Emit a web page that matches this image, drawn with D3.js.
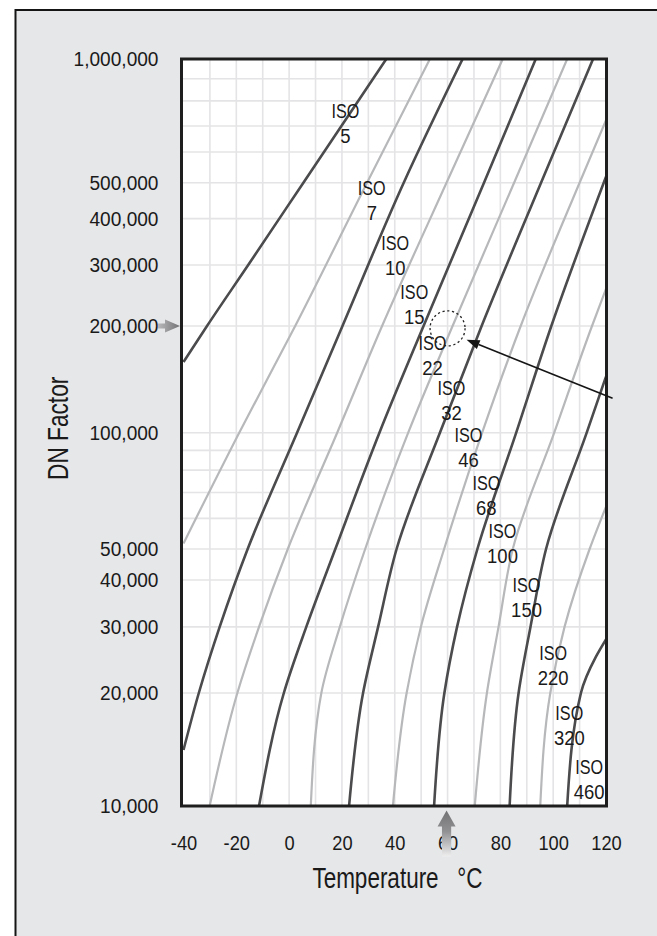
<!DOCTYPE html>
<html><head><meta charset="utf-8">
<script src="https://cdn.jsdelivr.net/npm/d3@7"></script>
<style>
html,body{margin:0;padding:0;background:#fff;}
svg{display:block;}
text{font-family:"Liberation Sans",Arial,Helvetica,sans-serif;fill:#1a1a1a;}
</style></head><body>
<svg id="chart" width="657" height="936"></svg>
<script>
// ---------- data ----------
const tempTicks = [-40, -20, 0, 20, 40, 60, 80, 100, 120];
const dnTicks = [10000, 20000, 30000, 40000, 50000, 100000, 200000, 300000, 400000, 500000, 1000000];
const gridTemps = [-30, -20, -10, 0, 10, 20, 30, 40, 50, 60, 70, 80, 90, 100, 110];
const gridDN = [20000, 30000, 40000, 50000, 60000, 70000, 80000, 90000, 100000,
                200000, 300000, 400000, 500000, 600000, 700000, 800000, 900000];

const isoGrades = ["5", "7", "10", "15", "22", "32", "46", "68", "100", "150", "220", "320", "460"];
const isoTone = ["dark", "light", "dark", "light", "dark", "light", "dark", "light", "dark", "light", "dark", "light", "dark"];

// each curve: [temperature °C, DN factor]
const iso5 = [[36.8, 1e6], [5.4, 5e5], [-15.5, 3e5], [-31.1, 2e5], [-40, 158300]];
const iso7 = [[53.3, 1e6], [29.5, 5e5], [2.3, 2e5], [-18.9, 1e5], [-40, 51700]];
const iso10 = [[65.7, 1e6], [43.4, 5e5], [20.2, 2e5], [3.0, 1e5], [-15.7, 5e4], [-26.3, 3e4], [-34.2, 2e4], [-40, 14100]];
const iso15 = [[80.9, 1e6], [59.6, 5e5], [35.2, 2e5], [18.2, 1e5], [-0.5, 5e4], [-11.4, 3e4], [-19.6, 2e4], [-30.1, 1e4]];
const iso22 = [[93.4, 1e6], [73.8, 5e5], [50.9, 2e5], [34.2, 1e5], [17.5, 5e4], [6.5, 3e4], [-2.0, 2e4], [-11.4, 1e4]];
const iso32 = [[105.3, 1e6], [85.2, 5e5], [61.9, 2e5], [45.1, 1e5], [28.8, 5e4], [19.2, 3e4], [12.2, 2e4], [8.2, 1e4]];
const iso46 = [[115.1, 1e6], [95.4, 5e5], [72.9, 2e5], [57.1, 1e5], [40.7, 5e4], [33.7, 3e4], [28.0, 2e4], [22.7, 1e4]];
const iso68 = [[120, 722000], [110.0, 5e5], [87.7, 2e5], [73.1, 1e5], [58.7, 5e4], [49.9, 3e4], [44.5, 2e4], [39.3, 1e4]];
const iso100 = [[120, 518000], [99.3, 2e5], [86.0, 1e5], [71.3, 5e4], [63.6, 3e4], [58.8, 2e4], [54.9, 1e4]];
const iso150 = [[120, 256000], [114.7, 2e5], [100.4, 1e5], [84.7, 5e4], [79.3, 3e4], [74.9, 2e4], [70.3, 1e4]];
const iso220 = [[120, 144000], [112.7, 1e5], [97.3, 5e4], [91.4, 3e4], [86.9, 2e4], [83.5, 1e4]];
const iso320 = [[120, 64300], [113.8, 5e4], [104.3, 3e4], [98.9, 2e4], [95.1, 1e4]];
const iso460 = [[120, 27800], [116.2, 25000], [110.5, 2e4], [105.3, 1e4]];
const isoCurves = [iso5, iso7, iso10, iso15, iso22, iso32, iso46, iso68, iso100, iso150, iso220, iso320, iso460];

// label anchors (temperature, DN) for each grade
const labelTemp = [21.3, 31.3, 40.2, 47.4, 54.3, 61.5, 67.9, 74.7, 80.8, 89.9, 100.0, 106.1, 113.6];
const labelDN = [729000, 463000, 329000, 240000, 171000, 127700, 94800, 71000, 53300, 37200, 24500, 16950, 12140];

// example point annotation
const markTemp = 60, markDN = 197000;
const pointerFrom = [122.5, 125000];
const pointerTo = [67.2, 182900];

// ---------- layout ----------
const svg = d3.select("#chart");
const x = d3.scaleLinear().domain([-40, 120]).range([183.5, 606]);
const y = d3.scaleLog()
  .domain([1e4, 4e4, 5e4, 1e5, 2e5, 3e5, 5e5, 7e5, 1e6])
  .range([806, 580, 549, 432.7, 326, 265, 182.7, 126, 59]);

const X0 = x.range()[0] - 2, X1 = x.range()[1] + 0.5;
const Y0 = y(1e6), Y1 = y(1e4);

// outer panel
svg.append("rect").attr("x", 15.5).attr("y", 10).attr("width", 720).attr("height", 1000)
  .attr("fill", "#e6e7e9").attr("stroke", "#151515").attr("stroke-width", 2);

// plot background
svg.append("rect").attr("x", X0).attr("y", Y0).attr("width", X1 - X0).attr("height", Y1 - Y0)
  .attr("fill", "#fff");

const defs = svg.append("defs");
defs.append("clipPath").attr("id", "plotClip").append("rect")
  .attr("x", X0).attr("y", Y0).attr("width", X1 - X0).attr("height", Y1 - Y0);

// grid
const grid = svg.append("g").attr("stroke", "#e4e4e6").attr("stroke-width", 1.6);
grid.selectAll("line.v").data(gridTemps).join("line").attr("class", "v")
  .attr("x1", d => x(d)).attr("x2", d => x(d)).attr("y1", Y0).attr("y2", Y1);
grid.selectAll("line.h").data(gridDN).join("line").attr("class", "h")
  .attr("x1", X0).attr("x2", X1).attr("y1", d => y(d)).attr("y2", d => y(d));

// curves
const line = d3.line().x(d => x(d[0])).y(d => y(d[1])).curve(d3.curveMonotoneY);
svg.append("g").attr("clip-path", "url(#plotClip)")
  .selectAll("path").data(isoCurves).join("path")
  .attr("d", line).attr("fill", "none")
  .attr("stroke", (d, i) => isoTone[i] === "dark" ? "#4b4b4d" : "#b7b8ba")
  .attr("stroke-width", (d, i) => isoTone[i] === "dark" ? 2.6 : 2.2);

// plot frame
svg.append("rect").attr("x", X0).attr("y", Y0).attr("width", X1 - X0).attr("height", Y1 - Y0)
  .attr("fill", "none").attr("stroke", "#1e1e1e").attr("stroke-width", 3);

// condensed text helper
function ctext(parent, str, px, py, size, sx, anchor, rot) {
  return parent.append("text")
    .attr("transform", `translate(${px},${py})` + (rot ? ` rotate(${rot})` : "") + ` scale(${sx},1)`)
    .attr("text-anchor", anchor).attr("font-size", size).text(str);
}

// y axis (labels only)
const yAxis = svg.append("g").attr("transform", `translate(${X0},0)`)
  .call(d3.axisLeft(y).tickValues(dnTicks).tickFormat(d3.format(",")).tickSize(0).tickPadding(23));
yAxis.select(".domain").remove();
yAxis.selectAll("text").attr("font-size", 21).attr("font-family", null).attr("fill", "#1a1a1a")
  .each(function () {
    const t = d3.select(this);
    t.attr("transform", `translate(${t.attr("x")},0) scale(0.91,1)`).attr("x", 0);
  });

// x axis (labels only)
const xAxis = svg.append("g").attr("transform", `translate(0,${Y1})`)
  .call(d3.axisBottom(x).tickValues(tempTicks).tickFormat(d => String(d)).tickSize(0).tickPadding(28.6));
xAxis.select(".domain").remove();
xAxis.selectAll("text").attr("font-size", 21).attr("font-family", null).attr("fill", "#1a1a1a")
  .each(function () {
    const t = d3.select(this);
    t.attr("transform", `translate(0,${t.attr("y")}) scale(0.87,1)`).attr("y", 0);
  });

// axis titles
ctext(svg, "DN Factor", 68.3, 428.3, 30, 0.755, "middle", -90);
ctext(svg, "Temperature\u00a0\u00a0\u00a0°C", 397.5, 888.3, 30, 0.75, "middle");

// ISO labels
const labels = svg.append("g");
isoGrades.forEach((g, i) => {
  const lx = x(labelTemp[i]), ly = y(labelDN[i]);
  ctext(labels, "ISO", lx, ly, 21, 0.77, "middle");
  ctext(labels, g, lx, ly + 25, 21, 0.88, "middle");
});

// gradients for the marker arrows
const gH = defs.append("linearGradient").attr("id", "gH").attr("x1", 0).attr("x2", 1).attr("y1", 0).attr("y2", 0);
gH.append("stop").attr("offset", 0).attr("stop-color", "#b9b9bb");
gH.append("stop").attr("offset", 1).attr("stop-color", "#727274");
const gV = defs.append("linearGradient").attr("id", "gV").attr("x1", 0).attr("x2", 0).attr("y1", 0).attr("y2", 1);
gV.append("stop").attr("offset", 0).attr("stop-color", "#727274");
gV.append("stop").attr("offset", 0.45).attr("stop-color", "#909092");
gV.append("stop").attr("offset", 1).attr("stop-color", "#eeeeef");

// left arrow at the DN value
{
  const ty = y(2e5), tx = X0 - 1.5;
  svg.append("path")
    .attr("d", `M${tx},${ty} L${tx - 15},${ty - 6.5} L${tx - 15},${ty - 2.6} L${tx - 22},${ty - 2.6} L${tx - 22},${ty + 2.6} L${tx - 15},${ty + 2.6} L${tx - 15},${ty + 6.5} Z`)
    .attr("fill", "url(#gH)");
}
// bottom arrow at the temperature
{
  const tx = x(markTemp) - 1, ty = Y1 + 4.5;
  svg.append("path")
    .attr("d", `M${tx},${ty} L${tx + 9},${ty + 16} L${tx + 4.6},${ty + 16} L${tx + 4.6},${ty + 46} L${tx - 4.6},${ty + 46} L${tx - 4.6},${ty + 16} L${tx - 9},${ty + 16} Z`)
    .attr("fill", "url(#gV)");
}

// dotted circle
svg.append("circle").attr("cx", x(markTemp)).attr("cy", y(markDN)).attr("r", 17.5)
  .attr("fill", "none").attr("stroke", "#222").attr("stroke-width", 1.3).attr("stroke-dasharray", "2.2,2.6");

// pointer arrow
{
  const x1 = x(pointerFrom[0]), y1 = y(pointerFrom[1]);
  const x2 = x(pointerTo[0]), y2 = y(pointerTo[1]);
  const ang = Math.atan2(y2 - y1, x2 - x1);
  const L = 13, W = 4.8;
  const bx = x2 - L * Math.cos(ang), by = y2 - L * Math.sin(ang);
  svg.append("line").attr("x1", x1).attr("y1", y1).attr("x2", bx).attr("y2", by)
    .attr("stroke", "#151515").attr("stroke-width", 1.6);
  svg.append("path")
    .attr("d", `M${x2},${y2} L${bx + W * Math.sin(ang)},${by - W * Math.cos(ang)} L${bx - W * Math.sin(ang)},${by + W * Math.cos(ang)} Z`)
    .attr("fill", "#151515");
}
</script>
</body></html>
